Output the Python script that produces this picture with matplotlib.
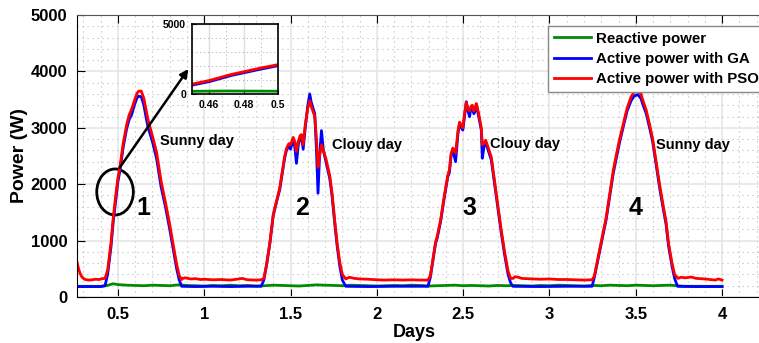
import matplotlib.pyplot as plt
from matplotlib.patches import Ellipse
from matplotlib.ticker import MultipleLocator

plt.rcParams['font.family'] = ['Liberation Sans', 'DejaVu Sans']
plt.rcParams['font.weight'] = 'bold'

# reactive power (green)
days_q = [0.263, 0.30, 0.35, 0.40, 0.43, 0.45, 0.47, 0.50, 0.55, 0.60, 0.65, 0.70, 0.75,
          0.80, 0.85, 0.90, 0.95, 1.00, 1.05, 1.10, 1.15, 1.20, 1.25, 1.30, 1.35, 1.40,
          1.45, 1.50, 1.55, 1.60, 1.65, 1.70, 1.75, 1.80, 1.85, 1.90, 1.95, 2.00, 2.05,
          2.10, 2.15, 2.20, 2.25, 2.30, 2.35, 2.40, 2.45, 2.50, 2.55, 2.60, 2.65, 2.70,
          2.75, 2.80, 2.85, 2.90, 2.95, 3.00, 3.05, 3.10, 3.15, 3.20, 3.25, 3.30, 3.35,
          3.40, 3.45, 3.50, 3.55, 3.60, 3.65, 3.70, 3.74, 3.78, 3.85, 3.90, 3.95, 4.00]
power_q = [190, 190, 190, 190, 200, 215, 235, 220, 210, 205, 200, 210, 205,
           200, 215, 205, 200, 195, 205, 200, 210, 200, 205, 195, 200, 210,
           205, 200, 195, 205, 215, 210, 205, 200, 210, 205, 200, 195, 200,
           205, 200, 210, 205, 195, 200, 205, 210, 200, 205, 200, 195, 205,
           200, 205, 200, 195, 205, 200, 210, 205, 200, 195, 205, 200, 210,
           205, 200, 210, 205, 200, 205, 210, 200, 190, 190, 190, 190, 190]

# active power with GA (blue)
days_ga = [0.263, 0.30, 0.35, 0.40, 0.425, 0.44, 0.45, 0.46, 0.473, 0.49, 0.50, 0.512,
           0.53, 0.55, 0.565, 0.579, 0.595, 0.61, 0.62, 0.635, 0.65, 0.665, 0.675, 0.70,
           0.724, 0.75, 0.775, 0.80, 0.82, 0.84, 0.855, 0.869, 0.95, 1.05, 1.15, 1.25,
           1.33, 1.345, 1.36, 1.38, 1.40, 1.42, 1.437, 1.45, 1.465, 1.476, 1.49, 1.50,
           1.515, 1.525, 1.534, 1.545, 1.555, 1.563, 1.573, 1.585, 1.60, 1.611, 1.62,
           1.64, 1.65, 1.659, 1.668, 1.679, 1.69, 1.705, 1.727, 1.74, 1.756, 1.77, 1.785,
           1.80, 1.82, 1.95, 2.10, 2.296, 2.31, 2.325, 2.34, 2.35, 2.37, 2.39, 2.411,
           2.42, 2.43, 2.44, 2.456, 2.47, 2.479, 2.49, 2.498, 2.508, 2.518, 2.528, 2.537,
           2.545, 2.553, 2.562, 2.57, 2.576, 2.59, 2.605, 2.611, 2.62, 2.63, 2.645, 2.663,
           2.68, 2.70, 2.72, 2.74, 2.76, 2.775, 2.788, 2.95, 3.10, 3.247, 3.26, 3.28,
           3.30, 3.328, 3.35, 3.37, 3.39, 3.405, 3.43, 3.45, 3.473, 3.49, 3.511, 3.53,
           3.545, 3.56, 3.58, 3.598, 3.62, 3.64, 3.66, 3.675, 3.69, 3.71, 3.725, 3.742,
           3.85, 4.00]
power_ga = [185, 185, 185, 185, 200, 400, 650, 900, 1350, 1800, 2050, 2250,
            2650, 2980, 3150, 3230, 3400, 3530, 3560, 3550, 3400, 3150, 3000, 2750,
            2450, 1950, 1600, 1200, 850, 500, 300, 190, 185, 190, 185, 190,
            190, 300, 550, 950, 1450, 1700, 1900, 2150, 2450, 2600, 2680, 2620,
            2800, 2650, 2370, 2700, 2820, 2850, 2620, 3000, 3400, 3600, 3450,
            3250, 2600, 1840, 2500, 2950, 2600, 2400, 2100, 1800, 1300, 900, 550,
            300, 190, 185, 190, 190, 350, 650, 950, 1050, 1350, 1750, 2133,
            2200, 2500, 2606, 2400, 2900, 3080, 3000, 2960, 3200, 3463, 3300, 3197,
            3350, 3374, 3250, 3300, 3420, 3200, 2960, 2460, 2650, 2755, 2600, 2430,
            2050, 1600, 1150, 750, 400, 250, 190, 185, 190, 190, 350, 650,
            950, 1365, 1800, 2200, 2500, 2725, 3050, 3300, 3480, 3560, 3590, 3520,
            3380, 3260, 3000, 2750, 2300, 1900, 1550, 1300, 900, 550, 330, 190,
            185, 185]

# active power with PSO (red)
days_pso = [0.263, 0.27, 0.28, 0.29, 0.30, 0.31, 0.33, 0.35, 0.37, 0.39, 0.41, 0.425,
            0.44, 0.45, 0.46, 0.473, 0.49, 0.50, 0.512, 0.53, 0.55, 0.565, 0.579, 0.595,
            0.61, 0.62, 0.635, 0.65, 0.665, 0.675, 0.70, 0.724, 0.75, 0.775, 0.80, 0.82,
            0.84, 0.855, 0.869, 0.875, 0.89, 0.92, 0.95, 0.98, 1.00, 1.05, 1.10, 1.15,
            1.20, 1.22, 1.25, 1.30, 1.33, 1.345, 1.36, 1.38, 1.40, 1.42, 1.437, 1.45,
            1.465, 1.476, 1.49, 1.50, 1.515, 1.525, 1.534, 1.545, 1.555, 1.563, 1.573,
            1.585, 1.60, 1.611, 1.62, 1.64, 1.65, 1.659, 1.668, 1.679, 1.69, 1.705, 1.727,
            1.74, 1.756, 1.77, 1.785, 1.80, 1.82, 1.84, 1.87, 1.90, 1.95, 2.00, 2.05, 2.10,
            2.15, 2.20, 2.25, 2.296, 2.31, 2.325, 2.34, 2.35, 2.37, 2.39, 2.411, 2.42,
            2.43, 2.44, 2.456, 2.47, 2.479, 2.49, 2.498, 2.508, 2.518, 2.528, 2.537, 2.545,
            2.553, 2.562, 2.57, 2.576, 2.59, 2.605, 2.611, 2.62, 2.63, 2.645, 2.663, 2.68,
            2.70, 2.72, 2.74, 2.76, 2.775, 2.79, 2.80, 2.82, 2.84, 2.90, 2.95, 3.00, 3.05,
            3.10, 3.15, 3.20, 3.247, 3.26, 3.28, 3.30, 3.328, 3.35, 3.37, 3.39, 3.405,
            3.43, 3.45, 3.473, 3.49, 3.511, 3.53, 3.545, 3.56, 3.58, 3.598, 3.62, 3.64,
            3.66, 3.675, 3.69, 3.71, 3.725, 3.745, 3.76, 3.79, 3.82, 3.85, 3.90, 3.93,
            3.96, 3.98, 4.00]
power_pso = [615, 520, 420, 360, 330, 310, 300, 305, 315, 310, 325, 330,
             480, 720, 980, 1420, 1880, 2120, 2320, 2720, 3050, 3230, 3330, 3480,
             3610, 3650, 3650, 3520, 3280, 3130, 2850, 2560, 2050, 1680, 1280, 930,
             580, 380, 310, 330, 340, 320, 325, 310, 315, 305, 310, 300,
             320, 330, 305, 300, 305, 330, 560, 960, 1470, 1720, 1930, 2180,
             2480, 2630, 2720, 2700, 2830, 2750, 2580, 2760, 2860, 2880, 2700,
             3050, 3350, 3480, 3380, 3200, 2800, 2300, 2500, 2700, 2600, 2450, 2150,
             1850, 1350, 950, 620, 400, 320, 350, 330, 320, 315, 305, 300, 305,
             300, 305, 300, 300, 380, 670, 970, 1080, 1380, 1780, 2160, 2250,
             2540, 2640, 2550, 2950, 3100, 3050, 3000, 3250, 3450, 3330, 3300, 3380,
             3400, 3300, 3340, 3430, 3250, 3000, 2700, 2720, 2780, 2650, 2480, 2100,
             1650, 1200, 800, 460, 330, 330, 360, 350, 330, 320, 315, 320, 310,
             310, 305, 300, 305, 370, 680, 980, 1400, 1850, 2250, 2560, 2780,
             3100, 3350, 3550, 3630, 3660, 3600, 3450, 3320, 3060, 2800, 2360, 1960,
             1600, 1350, 950, 600, 400, 330, 350, 340, 355, 330, 320, 310,
             300, 320, 300]

day_labels = ["Sunny day", "Clouy day", "Clouy day", "Sunny day"]
day_label_x = [0.743, 1.738, 2.653, 3.62]
day_label_y = [2766, 2695, 2713, 2695]
day_numbers = ["1", "2", "3", "4"]
day_number_x = [0.648, 1.565, 2.537, 3.498]

fig = plt.figure(figsize=(7.59, 3.43), dpi=100)
ax = fig.add_axes([0.1014, 0.1341, 0.8986, 0.8222])

green = (0.0, 0.55, 0.0)
ax.plot(days_q, power_q, color=green, lw=2, label="Reactive power")
ax.plot(days_ga, power_ga, color="blue", lw=2, label="Active power with GA")
ax.plot(days_pso, power_pso, color="red", lw=2, label="Active power with PSO")

ax.set_xlim(0.2624, 4.214)
ax.set_ylim(0, 5000)
ax.set_xticks([0.5, 1, 1.5, 2, 2.5, 3, 3.5, 4])
ax.set_xticklabels(["0.5", "1", "1.5", "2", "2.5", "3", "3.5", "4"])
ax.set_yticks([0, 1000, 2000, 3000, 4000, 5000])
ax.xaxis.set_minor_locator(MultipleLocator(0.1))
ax.yaxis.set_minor_locator(MultipleLocator(200))
ax.grid(which="major", color="#e6e6e6", lw=1.2)
ax.grid(which="minor", color="#bbbbbb", lw=0.8, ls=(0, (1, 3.5)))
ax.set_axisbelow(True)
ax.tick_params(which="major", direction="in", length=6, top=True, right=False,
               labelsize=12, pad=7)
ax.tick_params(which="minor", length=0)
for lab in ax.get_xticklabels() + ax.get_yticklabels():
    lab.set_fontweight("bold")
ax.spines["right"].set_visible(False)
ax.spines["top"].set_color("#555555")
ax.set_xlabel("Days", fontsize=13, fontweight="bold")
ax.set_ylabel("Power (W)", fontsize=14, fontweight="bold")
ax.xaxis.set_label_coords(0.494, -0.095)
ax.yaxis.set_label_coords(-0.072, 0.5)

for lbl, x, y in zip(day_labels, day_label_x, day_label_y):
    ax.text(x, y, lbl, fontsize=10.5, fontweight="bold", va="center", ha="left")
for num, x in zip(day_numbers, day_number_x):
    ax.text(x, 1578, num, fontsize=18, fontweight="bold", va="center", ha="center")

ax.add_patch(Ellipse((0.483, 1862), 0.212, 816, fill=False, ec="black", lw=2))
ax.annotate("", xy=(0.917, 4083), xytext=(0.5, 2250),
            arrowprops=dict(arrowstyle="-|>", color="black", lw=1.8,
                            mutation_scale=12))

leg = ax.legend(loc="upper left", bbox_to_anchor=(0.6906, 0.962),
                prop={"weight": "bold", "size": 10.8}, fancybox=False,
                edgecolor="#888888", framealpha=1, handlelength=2.5,
                borderaxespad=0, labelspacing=0.42, handletextpad=0.3,
                borderpad=0.4)
leg.get_frame().set_linewidth(1.0)

# zoomed inset
ins = fig.add_axes([0.2526, 0.7251, 0.1141, 0.2041])
ins.plot(days_q, power_q, color=green, lw=2)
ins.plot(days_ga, power_ga, color="blue", lw=2)
ins.plot(days_pso, power_pso, color="red", lw=2)
ins.set_xlim(0.45, 0.5)
ins.set_ylim(0, 5000)
ins.set_xticks([0.46, 0.48, 0.5])
ins.set_xticklabels(["0.46", "0.48", "0.5"])
ins.set_yticks([0, 5000])
ins.xaxis.set_minor_locator(MultipleLocator(0.01))
ins.yaxis.set_minor_locator(MultipleLocator(1000))
ins.grid(which="major", color="#dddddd", lw=1)
ins.grid(which="minor", color="#aaaaaa", lw=0.7, ls=(0, (1, 3)))
ins.tick_params(which="major", direction="in", length=3, labelsize=7.5, pad=4)
ins.tick_params(which="minor", length=0)
for lab in ins.get_xticklabels() + ins.get_yticklabels():
    lab.set_fontweight("bold")
for sp in ins.spines.values():
    sp.set_linewidth(1.2)

fig.savefig("out.png", dpi=100)
